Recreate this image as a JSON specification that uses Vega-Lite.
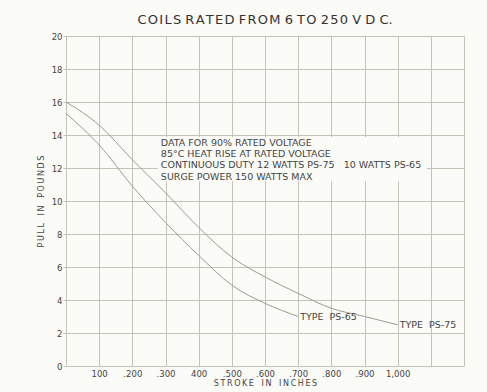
{
  "$schema": "https://vega.github.io/schema/vega-lite/v6.json",
  "width": 398,
  "height": 330,
  "autosize": {"type": "none"},
  "padding": {"left": 66, "top": 36, "right": 23, "bottom": 26},
  "background": "#fbfbf7",
  "title": {
    "text": "C\u200aO\u200aI\u200aL\u200aS  R\u200aA\u200aT\u200aE\u200aD  F\u200aR\u200aO\u200aM  6  T\u200aO  2\u200a5\u200a0  V  D  C.",
    "font": "DejaVu Sans",
    "fontSize": 13,
    "fontWeight": "normal",
    "color": "#333333",
    "offset": 5,
    "anchor": "middle"
  },
  "config": {
    "view": {"stroke": null},
    "axis": {
      "gridColor": "#c4c4b6",
      "gridWidth": 1,
      "gridOpacity": 1,
      "domain": false,
      "labelOverlap": false,
      "labelBound": false,
      "labelFont": "DejaVu Sans",
      "labelColor": "#444444",
      "labelFontSize": 8.5,
      "titleFont": "DejaVu Sans",
      "titleFontWeight": "normal",
      "titleColor": "#444444",
      "titleFontSize": 8
    }
  },
  "datasets": {
    "curves": [
      {"stroke": 0.0, "pull": 16.0, "type": "PS-75"},
      {"stroke": 0.1, "pull": 14.6, "type": "PS-75"},
      {"stroke": 0.2, "pull": 12.5, "type": "PS-75"},
      {"stroke": 0.3, "pull": 10.5, "type": "PS-75"},
      {"stroke": 0.4, "pull": 8.4, "type": "PS-75"},
      {"stroke": 0.5, "pull": 6.6, "type": "PS-75"},
      {"stroke": 0.6, "pull": 5.4, "type": "PS-75"},
      {"stroke": 0.7, "pull": 4.4, "type": "PS-75"},
      {"stroke": 0.8, "pull": 3.5, "type": "PS-75"},
      {"stroke": 0.9, "pull": 3.0, "type": "PS-75"},
      {"stroke": 1.0, "pull": 2.5, "type": "PS-75"},
      {"stroke": 0.0, "pull": 15.3, "type": "PS-65"},
      {"stroke": 0.1, "pull": 13.4, "type": "PS-65"},
      {"stroke": 0.2, "pull": 10.9, "type": "PS-65"},
      {"stroke": 0.3, "pull": 8.7, "type": "PS-65"},
      {"stroke": 0.4, "pull": 6.7, "type": "PS-65"},
      {"stroke": 0.5, "pull": 4.9, "type": "PS-65"},
      {"stroke": 0.6, "pull": 3.8, "type": "PS-65"},
      {"stroke": 0.7, "pull": 3.0, "type": "PS-65"}
    ],
    "labels": [
      {"stroke": 1.0, "pull": 2.5, "label": "TYPE\u00a0\u00a0PS-75"},
      {"stroke": 0.7, "pull": 3.0, "label": "TYPE\u00a0\u00a0PS-65"}
    ],
    "notebox": [
      {"stroke": 0.277, "stroke2": 1.088, "pull": 13.88, "pull2": 11.2}
    ],
    "notes": [
      {"stroke": 0.286, "pull": 13.5, "note": "DATA FOR 90% RATED VOLTAGE"},
      {"stroke": 0.286, "pull": 12.85, "note": "85°C HEAT RISE AT RATED VOLTAGE"},
      {"stroke": 0.286, "pull": 12.2, "note": "CONTINUOUS DUTY 12 WATTS PS-75\u00a0\u00a0\u00a010 WATTS PS-65"},
      {"stroke": 0.286, "pull": 11.45, "note": "SURGE POWER 150 WATTS MAX"}
    ]
  },
  "encoding": {
    "x": {
      "field": "stroke", "type": "quantitative",
      "scale": {"domain": [0, 1.2], "nice": false, "zero": false},
      "axis": {
        "title": "S\u2009T\u2009R\u2009O\u2009K\u2009E\u00a0\u00a0\u00a0I\u2009N\u00a0\u00a0\u00a0I\u2009N\u2009C\u2009H\u2009E\u2009S",
        "values": [0, 0.1, 0.2, 0.3, 0.4, 0.5, 0.6, 0.7, 0.8, 0.9, 1.0, 1.1, 1.2],
        "labelExpr": "['','100','.200','.300','400','.500','.600','.700','.800','.900','1,000','',''][round(datum.value*10)]",
        "ticks": false,
        "labelPadding": 3,
        "titlePadding": 2,
        "labelFlush": false
      }
    },
    "y": {
      "field": "pull", "type": "quantitative",
      "scale": {"domain": [0, 20], "nice": false},
      "axis": {
        "title": "P\u2009U\u2009L\u2009L\u00a0\u00a0\u00a0I\u2009N\u00a0\u00a0\u00a0P\u2009O\u2009U\u2009N\u2009D\u2009S",
        "values": [0, 2, 4, 6, 8, 10, 12, 14, 16, 18, 20],
        "tickSize": 3,
        "tickColor": "#c4c4b6",
        "labelPadding": 1,
        "titlePadding": 6
      }
    }
  },
  "layer": [
    {
      "data": {"name": "notebox"},
      "mark": {"type": "rect", "color": "#fbfbf7"},
      "encoding": {
        "x2": {"field": "stroke2"},
        "y2": {"field": "pull2"}
      }
    },
    {
      "data": {"name": "curves"},
      "mark": {"type": "line", "interpolate": "monotone", "color": "#9c9c92", "strokeWidth": 1},
      "encoding": {
        "detail": {"field": "type"}
      }
    },
    {
      "data": {"name": "labels"},
      "mark": {"type": "text", "align": "left", "baseline": "middle", "dx": 2, "font": "DejaVu Sans", "fontSize": 9.5, "color": "#444444"},
      "encoding": {
        "text": {"field": "label"}
      }
    },
    {
      "data": {"name": "notes"},
      "mark": {"type": "text", "align": "left", "baseline": "middle", "font": "DejaVu Sans", "fontSize": 9.5, "color": "#444444"},
      "encoding": {
        "text": {"field": "note"}
      }
    }
  ]
}
